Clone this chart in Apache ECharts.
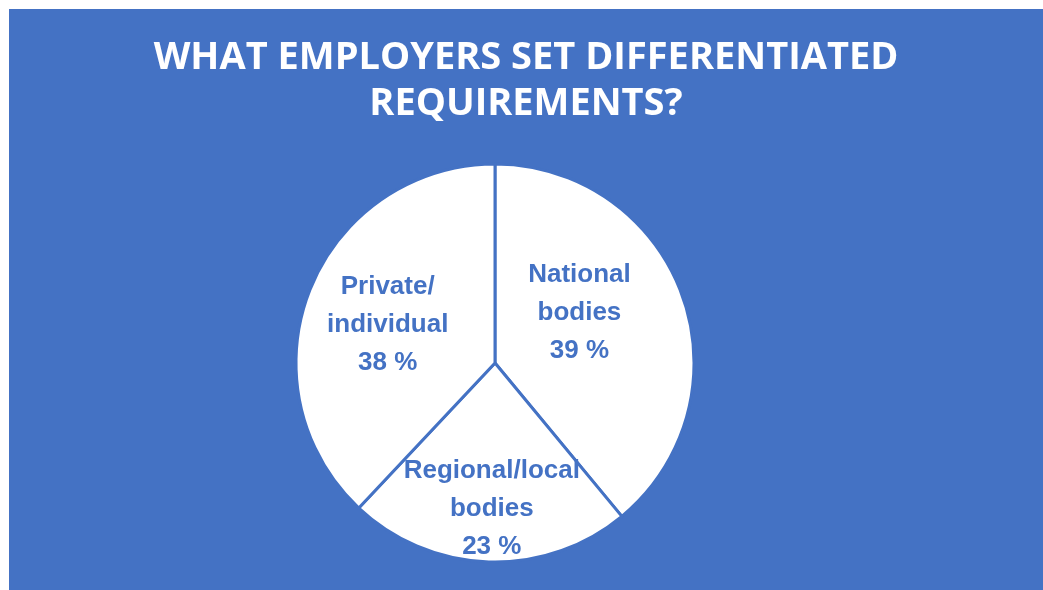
<!DOCTYPE html>
<html lang="en">
<head>
<meta charset="UTF-8">
<title>What employers set differentiated requirements?</title>
<script src="https://cdn.jsdelivr.net/npm/echarts@6/dist/echarts.min.js"></script>
<style>
  html, body { margin: 0; padding: 0; background: #ffffff; }
  #main { position: absolute; left: 9px; top: 9px; width: 1034px; height: 581px; }
</style>
</head>
<body>
<div id="main"></div>
<script>
// data
var categories = ['National\nbodies', 'Regional/local\nbodies', 'Private/\nindividual'];
var shares = [39, 23, 38];
var titleText = 'WHAT EMPLOYERS SET DIFFERENTIATED\nREQUIREMENTS?';

var blue = '#4472C4';
var myChart = echarts.init(document.getElementById('main'));

var pieData = [];
for (var i = 0; i < categories.length; i++) {
    pieData.push({ name: categories[i], value: shares[i] });
}

var option = {
    backgroundColor: blue,
    animation: false,
    title: {
        text: titleText,
        left: 'center',
        top: 21,
        textStyle: {
            color: '#ffffff',
            fontFamily: 'Open Sans',
            fontWeight: 'bold',
            fontSize: 38,
            lineHeight: 46
        }
    },
    series: [
        {
            type: 'pie',
            center: [486, 354],
            radius: 199,
            startAngle: 90,
            clockwise: true,
            data: pieData,
            itemStyle: {
                color: '#ffffff',
                borderColor: blue,
                borderWidth: 3
            },
            label: {
                show: true,
                position: 'inside',
                color: blue,
                fontFamily: 'Liberation Sans',
                fontWeight: 'bold',
                fontSize: 26,
                lineHeight: 38,
                formatter: function (p) { return p.name + '\n' + p.value + ' %'; }
            },
            labelLayout: function (p) {
                if (p.dataIndex === 1) return { dy: 43 };
                if (p.dataIndex === 0) return { dx: -12, dy: -15 };
                return { dx: -12 };
            },
            emphasis: { disabled: true }
        }
    ]
};

myChart.setOption(option);
</script>
</body>
</html>
